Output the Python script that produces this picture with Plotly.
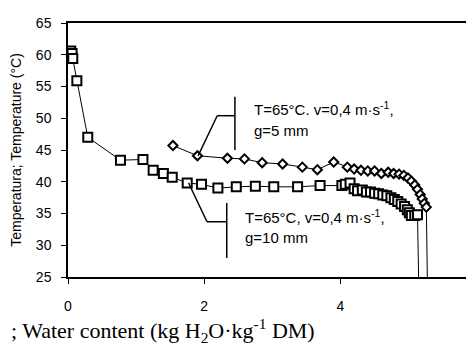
import plotly.graph_objects as go

# g = 10 mm (squares)
x_g10 = [0.04, 0.06, 0.07, 0.13, 0.29, 0.77, 1.10, 1.25, 1.40, 1.53, 1.75, 1.96, 2.20, 2.47,
         2.75, 3.02, 3.37, 3.70, 4.02, 4.07, 4.14, 4.20, 4.25, 4.32, 4.38, 4.44, 4.50, 4.56,
         4.62, 4.68, 4.74, 4.79, 4.84, 4.89, 4.94, 4.98, 5.01, 5.04, 5.09, 5.13, 5.18]
y_g10 = [60.6, 60.2, 59.4, 55.9, 47.0, 43.4, 43.5, 41.8, 41.3, 40.7, 39.8, 39.6, 39.0, 39.2,
         39.3, 39.2, 39.2, 39.4, 39.4, 39.6, 39.8, 38.9, 38.6, 38.7, 38.4, 38.4, 38.2, 38.1,
         37.9, 37.8, 37.5, 37.2, 36.9, 36.5, 36.1, 35.6, 35.1, 34.7, 34.7, 34.8, 5.0]

# g = 5 mm (diamonds)
x_g5 = [1.54, 1.90, 2.34, 2.59, 2.85, 3.15, 3.44, 3.66, 3.90, 4.10, 4.20, 4.30, 4.40, 4.50,
        4.60, 4.70, 4.78, 4.86, 4.93, 4.99, 5.04, 5.09, 5.13, 5.17, 5.20, 5.23, 5.26, 5.30]
y_g5 = [45.7, 44.1, 43.7, 43.6, 43.0, 42.8, 42.3, 41.9, 43.1, 42.3, 42.0, 41.8, 41.7, 41.7,
        41.3, 41.5, 41.3, 41.2, 41.0, 40.6, 40.1, 39.5, 38.8, 38.0, 37.3, 36.6, 36.0, 5.0]

x_ticks = [0, 2, 4]
y_ticks = [25, 30, 35, 40, 45, 50, 55, 60, 65]
x_max = 5.93
edge_tick_label = "6"

label_g5 = ["T=65°C. v=0,4 m·s<sup>-1</sup>,", "g=5 mm"]
label_g10 = ["T=65°C, v=0,4 m·s<sup>-1</sup>,", "g=10 mm"]
x_title = "; Water content (kg H<sub>2</sub>O·kg<sup>-1</sup> DM)"
y_title = "Temperatura; Temperature (°C)"

SANS = "Liberation Sans, Arial, sans-serif"
SERIF = "Liberation Serif, Times New Roman, serif"

fig = go.Figure()
fig.add_trace(go.Scatter(
    x=x_g10, y=y_g10, mode="lines+markers",
    line=dict(color="black", width=1),
    marker=dict(symbol="square", size=9, color="white", line=dict(color="black", width=2)),
    showlegend=False))
fig.add_trace(go.Scatter(
    x=x_g5, y=y_g5, mode="lines+markers",
    line=dict(color="black", width=1),
    marker=dict(symbol="diamond", size=7, color="white", line=dict(color="black", width=2)),
    showlegend=False))

lc = dict(color="black", width=1.5)
# leader lines, top label
fig.add_shape(type="line", x0=2.45, x1=2.45, y0=45.0, y1=53.4, xref="x", yref="y", line=lc)
fig.add_shape(type="line", x0=2.19, x1=2.45, y0=50.4, y1=50.4, xref="x", yref="y", line=lc)
fig.add_shape(type="line", x0=2.19, x1=1.91, y0=50.4, y1=44.1, xref="x", yref="y", line=lc)
# leader lines, bottom label
fig.add_shape(type="line", x0=2.33, x1=2.33, y0=28.0, y1=36.65, xref="x", yref="y", line=lc)
fig.add_shape(type="line", x0=2.04, x1=2.33, y0=33.7, y1=33.7, xref="x", yref="y", line=lc)
fig.add_shape(type="line", x0=2.04, x1=1.77, y0=33.7, y1=39.8, xref="x", yref="y", line=lc)

tf = dict(family=SANS, size=15, color="black")
fig.add_annotation(x=2.70, y=51.6, text=label_g5[0], showarrow=False, xanchor="left", yanchor="middle", font=tf)
fig.add_annotation(x=2.70, y=48.1, text=label_g5[1], showarrow=False, xanchor="left", yanchor="middle", font=tf)
fig.add_annotation(x=2.57, y=34.6, text=label_g10[0], showarrow=False, xanchor="left", yanchor="middle", font=tf)
fig.add_annotation(x=2.57, y=31.3, text=label_g10[1], showarrow=False, xanchor="left", yanchor="middle", font=tf)

# partially visible tick label at the right edge (cut by the picture border)
fig.add_annotation(x=(462 - 59) / 405, y=-(297 - 269) / 262, xref="paper", yref="paper",
                   text=edge_tick_label, showarrow=False, xanchor="left", yanchor="middle",
                   font=dict(family=SANS, size=14, color="black"))

# x axis title (cut at left in the reference)
fig.add_annotation(x=-59 / 405, y=-(324 - 269) / 262, xref="paper", yref="paper",
                   text=x_title, showarrow=False, xanchor="left", yanchor="middle",
                   font=dict(family=SERIF, size=22, color="black"))

fig.update_xaxes(range=[0, x_max], tickvals=x_ticks, showgrid=False, zeroline=False,
                 showline=True, linecolor="black", linewidth=1.5, mirror=True,
                 ticks="outside", ticklen=5, tickcolor="black", ticklabelstandoff=10,
                 tickfont=dict(family=SANS, size=14, color="black"))
fig.update_yaxes(range=[25, 65], tickvals=y_ticks, showgrid=False, zeroline=False,
                 showline=True, linecolor="black", linewidth=1.5, mirror=True,
                 ticks="outside", ticklen=5, tickcolor="black", ticklabelstandoff=7,
                 tickfont=dict(family=SANS, size=14, color="black"),
                 title=dict(text=y_title, standoff=11,
                            font=dict(family=SANS, size=14, color="black")))

fig.update_layout(width=474, height=361, margin=dict(l=59, r=10, t=7, b=92),
                  paper_bgcolor="white", plot_bgcolor="white")
fig.write_html("out.html")
